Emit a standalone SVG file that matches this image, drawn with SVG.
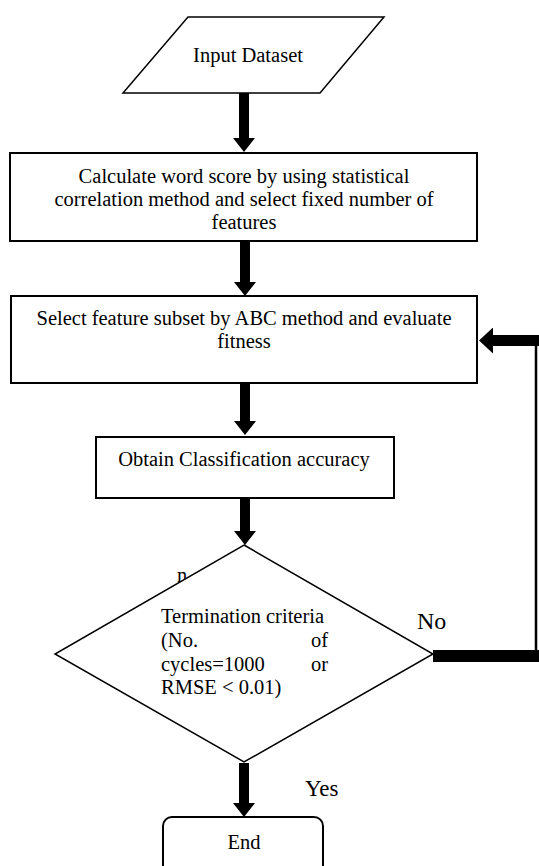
<svg xmlns="http://www.w3.org/2000/svg" width="539" height="866" viewBox="0 0 539 866">
<style>
  .t { font-family: "Liberation Serif", "Times New Roman", serif; font-size: 20.5px; fill: #000; }
  .c { text-anchor: middle; }
  .box { fill: #fff; stroke: #000; stroke-width: 2; }
  .thin { fill: #fff; stroke: #000; stroke-width: 1.5; }
  .shaft { stroke: #000; stroke-width: 10; fill: none; stroke-linecap: butt; }
</style>
<defs>
  <marker id="ah" markerUnits="userSpaceOnUse" viewBox="0 0 14 22" markerWidth="14" markerHeight="22" refX="0" refY="11" orient="auto">
    <path d="M0,0 L14,11 L0,22 Z" fill="#000"/>
  </marker>
  <marker id="ah2" markerUnits="userSpaceOnUse" viewBox="0 0 14 26" markerWidth="14" markerHeight="26" refX="0" refY="13" orient="auto">
    <path d="M0,0 L14,13 L0,26 Z" fill="#000"/>
  </marker>
</defs>
<rect width="539" height="866" fill="#fff"/>

<g id="start">
  <polygon class="thin" points="188,17 384,17 320,93 123,93"/>
  <text class="t c" x="248" y="62">Input Dataset</text>
</g>

<g id="score">
  <rect class="box" x="10" y="153" width="467" height="88"/>
  <text class="t c" x="244" y="183">Calculate word score by using statistical</text>
  <text class="t c" x="244" y="206">correlation method and select fixed number of</text>
  <text class="t c" x="244" y="229">features</text>
</g>

<g id="abc">
  <rect class="box" x="11" y="296" width="466" height="87"/>
  <text class="t c" x="244" y="325">Select feature subset by ABC method and evaluate</text>
  <text class="t c" x="244" y="348">fitness</text>
</g>

<g id="accuracy">
  <rect class="box" x="96" y="437" width="298" height="61"/>
  <text class="t c" x="244" y="466">Obtain Classification accuracy</text>
</g>

<g id="decision">
  <text class="t" x="177" y="582">n</text>
  <polygon class="thin" points="244,545 433,654 244,762 55,654"/>
  <text class="t" x="161" y="623">Termination criteria</text>
  <text class="t" x="161" y="647">(No.</text>
  <text class="t" x="328" y="647" text-anchor="end">of</text>
  <text class="t" x="161" y="671">cycles=1000</text>
  <text class="t" x="328" y="671" text-anchor="end">or</text>
  <text class="t" x="161" y="694">RMSE &lt; 0.01)</text>
</g>

<g id="end">
  <rect class="box" x="163" y="817" width="160" height="70" rx="9"/>
  <text class="t c" x="244" y="849">End</text>
</g>

<g id="connectors">
  <line class="shaft" x1="244" y1="93" x2="244" y2="138" marker-end="url(#ah)"/>
  <line class="shaft" x1="245" y1="241" x2="245" y2="282" marker-end="url(#ah)"/>
  <line class="shaft" x1="245" y1="384" x2="245" y2="421" marker-end="url(#ah)"/>
  <line class="shaft" x1="245" y1="498" x2="245" y2="531" marker-end="url(#ah)"/>
  <line class="shaft" x1="244" y1="763" x2="244" y2="803" marker-end="url(#ah)"/>
  <line x1="433" y1="656" x2="539" y2="656" stroke="#000" stroke-width="12"/>
  <line x1="536" y1="662" x2="536" y2="335" stroke="#000" stroke-width="2.5"/>
  <line x1="539" y1="340.5" x2="493" y2="340.5" stroke="#000" stroke-width="11" marker-end="url(#ah2)"/>
  <text class="t" x="417" y="629" style="font-size:24px">No</text>
  <text class="t" x="305" y="796" style="font-size:23px">Yes</text>
</g>
</svg>
